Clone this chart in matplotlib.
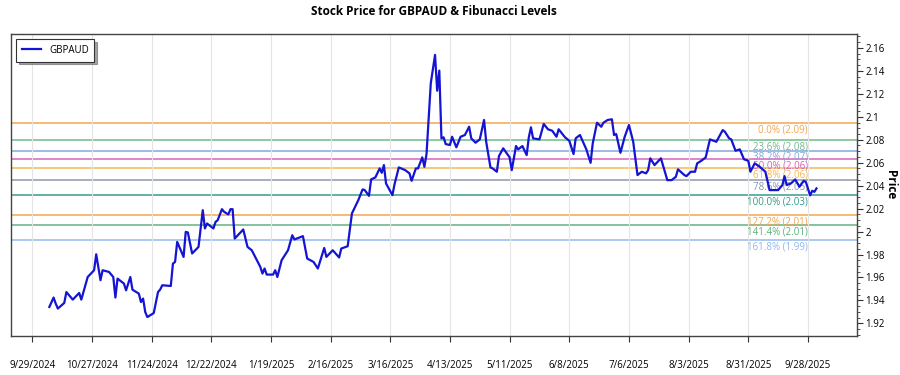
import numpy as np
import matplotlib
matplotlib.use("Agg")
import matplotlib.pyplot as plt
import matplotlib.ticker as mticker
import pandas as pd

# GBPAUD close
dates = [
    "2024-10-07", "2024-10-09", "2024-10-10", "2024-10-11", "2024-10-14", "2024-10-15",
    "2024-10-18", "2024-10-21", "2024-10-22", "2024-10-25", "2024-10-28", "2024-10-29",
    "2024-10-31", "2024-11-01", "2024-11-04", "2024-11-06", "2024-11-07", "2024-11-08",
    "2024-11-11", "2024-11-12", "2024-11-14", "2024-11-15", "2024-11-18", "2024-11-19",
    "2024-11-20", "2024-11-21", "2024-11-22", "2024-11-25", "2024-11-27", "2024-11-28",
    "2024-11-29", "2024-12-03", "2024-12-04", "2024-12-05", "2024-12-06", "2024-12-09",
    "2024-12-10", "2024-12-11", "2024-12-13", "2024-12-16", "2024-12-18", "2024-12-19",
    "2024-12-20", "2024-12-23", "2024-12-24", "2024-12-25", "2024-12-27", "2024-12-28",
    "2024-12-30", "2024-12-31", "2025-01-01", "2025-01-02", "2025-01-06", "2025-01-08",
    "2025-01-10", "2025-01-14", "2025-01-15", "2025-01-16", "2025-01-17", "2025-01-20",
    "2025-01-21", "2025-01-22", "2025-01-24", "2025-01-27", "2025-01-29", "2025-01-30",
    "2025-02-03", "2025-02-05", "2025-02-08", "2025-02-10", "2025-02-13", "2025-02-14",
    "2025-02-17", "2025-02-20", "2025-02-21", "2025-02-24", "2025-02-26", "2025-03-01",
    "2025-03-03", "2025-03-04", "2025-03-06", "2025-03-07", "2025-03-09", "2025-03-11",
    "2025-03-12", "2025-03-13", "2025-03-14", "2025-03-17", "2025-03-18", "2025-03-20",
    "2025-03-23", "2025-03-25", "2025-03-26", "2025-03-28", "2025-03-29", "2025-03-31",
    "2025-04-01", "2025-04-02", "2025-04-04", "2025-04-06", "2025-04-07", "2025-04-08",
    "2025-04-09", "2025-04-10", "2025-04-11", "2025-04-13", "2025-04-14", "2025-04-16",
    "2025-04-18", "2025-04-20", "2025-04-22", "2025-04-23", "2025-04-25", "2025-04-27",
    "2025-04-29", "2025-04-30", "2025-05-02", "2025-05-03", "2025-05-05", "2025-05-06",
    "2025-05-08", "2025-05-11", "2025-05-12", "2025-05-14", "2025-05-15", "2025-05-17",
    "2025-05-19", "2025-05-20", "2025-05-21", "2025-05-22", "2025-05-25", "2025-05-27",
    "2025-05-29", "2025-05-31", "2025-06-02", "2025-06-03", "2025-06-06", "2025-06-08",
    "2025-06-10", "2025-06-11", "2025-06-13", "2025-06-16", "2025-06-18", "2025-06-19",
    "2025-06-21", "2025-06-23", "2025-06-24", "2025-06-26", "2025-06-28", "2025-06-29",
    "2025-06-30", "2025-07-02", "2025-07-04", "2025-07-06", "2025-07-08", "2025-07-10",
    "2025-07-12", "2025-07-14", "2025-07-15", "2025-07-16", "2025-07-18", "2025-07-21",
    "2025-07-24", "2025-07-26", "2025-07-28", "2025-07-29", "2025-08-01", "2025-08-02",
    "2025-08-04", "2025-08-06", "2025-08-07", "2025-08-09", "2025-08-11", "2025-08-13",
    "2025-08-16", "2025-08-19", "2025-08-20", "2025-08-22", "2025-08-23", "2025-08-25",
    "2025-08-27", "2025-08-29", "2025-08-31", "2025-09-01", "2025-09-03", "2025-09-05",
    "2025-09-08", "2025-09-10", "2025-09-14", "2025-09-16", "2025-09-17", "2025-09-18",
    "2025-09-20", "2025-09-22", "2025-09-24", "2025-09-26", "2025-09-27", "2025-09-29",
    "2025-09-30", "2025-10-01", "2025-10-02",
]
prices = [
    1.9343, 1.9425, 1.9372, 1.9329, 1.9378, 1.9473,
    1.9407, 1.9465, 1.9407, 1.9604, 1.9663, 1.9802,
    1.9576, 1.9663, 1.9648, 1.9604, 1.9425, 1.9590,
    1.9547, 1.9488, 1.9604, 1.9494, 1.9459, 1.9386,
    1.9416, 1.9299, 1.9255, 1.9290, 1.9473, 1.9494,
    1.9532, 1.9526, 1.9721, 1.9735, 1.9910, 1.9779,
    1.9997, 1.9992, 1.9809, 1.9866, 2.0186, 2.0027,
    2.0070, 2.0027, 2.0084, 2.0099, 2.0195, 2.0172,
    2.0149, 2.0195, 2.0195, 1.9939, 2.0018, 1.9866,
    1.9837, 1.9692, 1.9634, 1.9678, 1.9625, 1.9625,
    1.9663, 1.9604, 1.9750, 1.9837, 1.9968, 1.9931,
    1.9960, 1.9765, 1.9735, 1.9678, 1.9857, 1.9779,
    1.9837, 1.9774, 1.9852, 1.9872, 2.0158, 2.0274,
    2.0367, 2.0361, 2.0311, 2.0454, 2.0472, 2.0550,
    2.0512, 2.0579, 2.0419, 2.0317, 2.0413, 2.0559,
    2.0535, 2.0507, 2.0442, 2.0550, 2.0550, 2.0646,
    2.0564, 2.0675, 2.1292, 2.1539, 2.1227, 2.1402,
    2.0812, 2.0821, 2.0762, 2.0754, 2.0826, 2.0734,
    2.0826, 2.0841, 2.0913, 2.0812, 2.0774, 2.0803,
    2.0972, 2.0782, 2.0559, 2.0550, 2.0521, 2.0658,
    2.0725, 2.0646, 2.0535, 2.0745, 2.0716, 2.0745,
    2.0666, 2.0821, 2.0908, 2.0812, 2.0803, 2.0937,
    2.0891, 2.0878, 2.0826, 2.0891, 2.0821, 2.0791,
    2.0675, 2.0812, 2.0841, 2.0716, 2.0599, 2.0768,
    2.0948, 2.0913, 2.0948, 2.0972, 2.0978, 2.0841,
    2.0850, 2.0686, 2.0826, 2.0928, 2.0782, 2.0492,
    2.0521, 2.0507, 2.0535, 2.0638, 2.0579, 2.0638,
    2.0448, 2.0448, 2.0477, 2.0542, 2.0492, 2.0483,
    2.0521, 2.0521, 2.0594, 2.0617, 2.0646, 2.0803,
    2.0782, 2.0884, 2.0870, 2.0812, 2.0803, 2.0704,
    2.0716, 2.0629, 2.0617, 2.0521, 2.0594, 2.0570,
    2.0521, 2.0361, 2.0361, 2.0405, 2.0483, 2.0405,
    2.0419, 2.0454, 2.0390, 2.0442, 2.0433, 2.0315,
    2.0355, 2.0346, 2.0376,
]

fib_high = 2.0945
fib_low = 2.0317
fib_ratios = [0.0, 0.236, 0.382, 0.5, 0.618, 0.786, 1.0, 1.272, 1.414, 1.618]
fib_colors = ["#f5a54a", "#6cba86", "#7fa6de", "#d660b8", "#f2b64e",
              "#8a96a6", "#35998c", "#f5a54a", "#5fb07e", "#93b6ee"]

plt.rcParams["font.family"] = ["Open Sans", "DejaVu Sans"]

dt = pd.to_datetime(dates)

fig = plt.figure(figsize=(9, 3.75), dpi=100)
ax = fig.add_axes([0.0122, 0.104, 0.94, 0.805])

label_x = pd.Timestamp("2025-09-28")
for r, c in zip(fib_ratios, fib_colors):
    lvl = fib_high - r * (fib_high - fib_low)
    ax.axhline(lvl, color=c, lw=1.2, alpha=0.9, zorder=1)
    ax.text(label_x, lvl - 0.0012, f"{r*100:.1f}% ({lvl:.2f})", color=c,
            fontsize=7, ha="right", va="top", zorder=2)

ax.plot(dt, prices, color="#1414d2", lw=1.6, label="GBPAUD", zorder=3)

ax.set_xlim(pd.Timestamp("2024-09-19"), pd.Timestamp("2025-10-21"))
ax.set_ylim(1.909, 2.172)

xt = pd.date_range("2024-09-29", "2025-09-28", freq="28D")
ax.set_xticks(xt)
ax.set_xticklabels([f"{d.month}/{d.day}/{d.year}" for d in xt], fontsize=7)
ax.tick_params(axis="x", length=4, pad=13, color="#333333")
ax.grid(axis="x", color="#e4e4e4", lw=0.8)

ax.yaxis.tick_right()
ax.yaxis.set_label_position("right")
ax.set_yticks(np.arange(1.92, 2.161, 0.02))
ax.yaxis.set_major_formatter(mticker.FuncFormatter(lambda v, p: f"{v:g}"))
ax.yaxis.set_minor_locator(mticker.MultipleLocator(0.005))
ax.tick_params(axis="y", labelsize=7, length=4, pad=2, color="#333333")
ax.tick_params(axis="y", which="minor", length=2, color="#333333")
ax.set_ylabel("Price", fontsize=8.5, fontweight="bold", rotation=270, labelpad=9)

for s in ax.spines.values():
    s.set_color("#444444")
    s.set_linewidth(1.0)

ax.set_title("Stock Price for GBPAUD & Fibunacci Levels", fontsize=8.5,
             fontweight="bold", pad=14)

leg = ax.legend(loc="upper left", fontsize=7, fancybox=False, shadow=True,
                edgecolor="#333333", handlelength=2, borderpad=0.6)
leg.get_frame().set_linewidth(0.8)

fig.savefig("out.png", dpi=100)
